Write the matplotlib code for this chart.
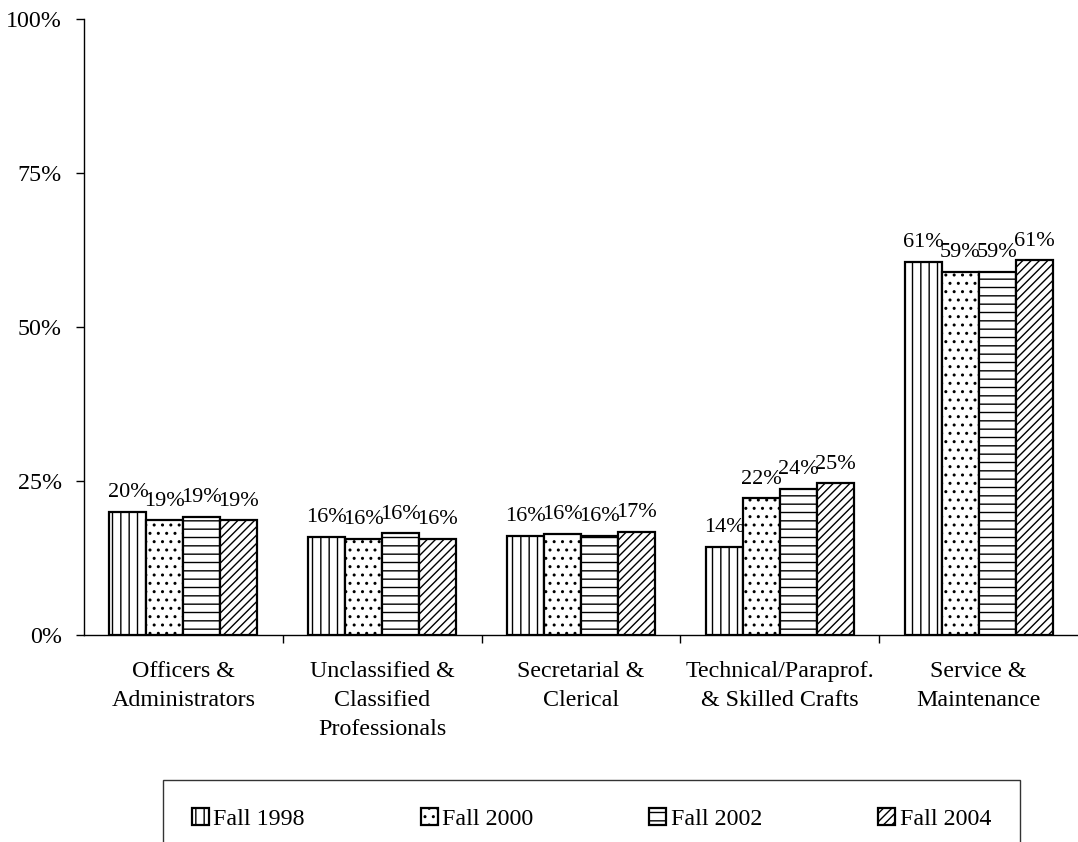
import matplotlib
matplotlib.use("Agg")
import matplotlib.pyplot as plt
import numpy as np
from matplotlib.ticker import FixedLocator, NullFormatter

categories = ["Officers &\nAdministrators", "Unclassified &\nClassified\nProfessionals",
              "Secretarial &\nClerical", "Technical/Paraprof.\n& Skilled Crafts",
              "Service &\nMaintenance"]
series_names = ["Fall 1998", "Fall 2000", "Fall 2002", "Fall 2004"]
fall_1998 = [20.0, 15.9, 16.1, 14.3, 60.6]
fall_2000 = [18.6, 15.6, 16.4, 22.2, 59.0]
fall_2002 = [19.2, 16.5, 16.1, 23.7, 58.9]
fall_2004 = [18.6, 15.6, 16.7, 24.6, 60.8]
yticks = [0, 25, 50, 75, 100]

series = [fall_1998, fall_2000, fall_2002, fall_2004]
hatches = ["||", "..", "--", "////"]

plt.rcParams['font.family'] = ['Liberation Serif', 'DejaVu Serif']
plt.rcParams['hatch.linewidth'] = 1.0
FS = 17.3
FS_LAB = 16

fig = plt.figure(figsize=(10.78, 8.42), dpi=100)
ax = fig.add_axes([84/1078, 1-635/842, 1-84/1078, (635-19)/842])

x = np.arange(len(categories))
w = 0.186
for i, (vals, h) in enumerate(zip(series, hatches)):
    pos = x + (i - 1.5) * w
    bars = ax.bar(pos, vals, width=w, color="white", edgecolor="black",
                  linewidth=1.6, hatch=h, label=series_names[i], zorder=2)
    for b, v in zip(bars, vals):
        ax.annotate(f"{v:.0f}%", (b.get_x() + b.get_width()/2, v),
                    xytext=(0, 7), textcoords="offset points",
                    ha="center", va="bottom", fontsize=FS_LAB)

ax.set_xlim(-0.5, len(categories) - 0.5)
ax.set_ylim(0, 100)
ax.set_yticks(yticks)
ax.set_yticklabels([f"{t}%" for t in yticks], fontsize=FS)
ax.set_xticks(x)
ax.set_xticklabels(categories, fontsize=FS, linespacing=1.5)
ax.tick_params(axis="x", which="major", length=0, pad=19)
ax.xaxis.set_minor_locator(FixedLocator(np.arange(0.5, len(categories) - 0.5, 1)))
ax.xaxis.set_minor_formatter(NullFormatter())
ax.tick_params(axis="x", which="minor", length=6, width=1, direction="out")
ax.tick_params(axis="y", length=6, width=1, direction="out", pad=10)
for s in ["top", "right"]:
    ax.spines[s].set_visible(False)
for s in ["left", "bottom"]:
    ax.spines[s].set_linewidth(1)

leg = fig.legend(loc="upper left",
                 bbox_to_anchor=(163/1078, 1-788/842, (1020-163)/1078, 0.01),
                 mode="expand", ncol=4, fontsize=FS, frameon=True, fancybox=False,
                 edgecolor="black", handlelength=0.7, handleheight=0.7,
                 handletextpad=0.2, borderpad=1.2, borderaxespad=0)
leg.get_frame().set_linewidth(1)

fig.savefig("out.png", dpi=100)
